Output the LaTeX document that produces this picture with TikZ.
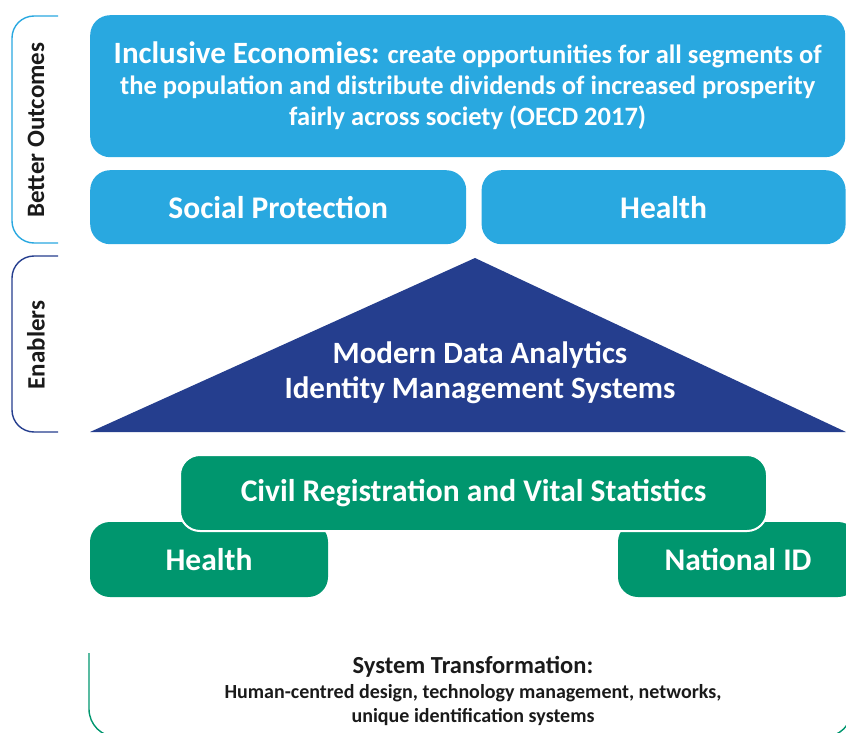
\documentclass[tikz,border=0pt]{standalone}
\usepackage{fontspec}
\setmainfont{Carlito}
\usepackage{xcolor}
\usetikzlibrary{shapes,arrows,positioning}

\definecolor{skyblue}{RGB}{41,168,224}
\definecolor{navyblue}{RGB}{37,62,142}
\definecolor{idgreen}{RGB}{0,150,110}
\definecolor{inkgray}{RGB}{26,26,26}

\begin{document}
\begin{tikzpicture}[x=1pt, y=-1pt,
    outcome/.style={rectangle, rounded corners=20pt, fill=skyblue, text=white, align=center, inner sep=0pt, font=\bfseries\fontsize{31.5}{31}\selectfont},
    enabler/.style={rectangle, rounded corners=20pt, fill=idgreen, text=white, align=center, inner sep=0pt, font=\bfseries\fontsize{31.5}{36}\selectfont},
    bracket/.style={line width=1.4pt, rounded corners=22pt},
    sidelabel/.style={rotate=90, text=inkgray, font=\bfseries\fontsize{25}{28}\selectfont}]
    \useasboundingbox (0,0) rectangle (846,733);

    % better outcomes
    \node[outcome, anchor=north west, minimum width=755pt, minimum height=142pt, font=\bfseries\fontsize{26.5}{31}\selectfont] (economies) at (90,15)
        {{\fontsize{31}{31}\selectfont Inclusive Economies:} create opportunities for all segments of\\the population and distribute dividends of increased prosperity\\fairly across society (OECD 2017)};
    \node[outcome, anchor=north west, minimum width=376pt, minimum height=74pt] (social) at (90,170) {Social Protection};
    \node[outcome, minimum width=364pt, minimum height=74pt] (health) [right=15pt of social] {Health};

    % enablers
    \fill[navyblue] (90,432) -- (475,258) -- (846,432) -- cycle;
    \node[text=white, align=center, font=\bfseries\fontsize{31}{35}\selectfont] (analytics) at (480,373)
        {Modern Data Analytics\\Identity Management Systems};

    % registration systems
    \node[enabler, minimum width=238pt, minimum height=75pt] (healthid) at (209,559.5) {Health};
    \node[enabler, minimum width=240pt, minimum height=75pt] (nationalid) at (738,559.5) {National ID};
    \node[enabler, draw=white, line width=2pt, minimum width=587pt, minimum height=76pt] (crvs) at (473.5,493)
        {Civil Registration and Vital Statistics};

    % side brackets
    \draw[bracket, skyblue] (58,16) -- (12,16) -- (12,243) -- (58,243);
    \node[sidelabel] (better) at (36,130) {Better Outcomes};
    \draw[bracket, navyblue] (58,256) -- (12,256) -- (12,432) -- (58,432);
    \node[sidelabel] (enablers) at (36,345) {Enablers};

    % system transformation
    \draw[bracket, idgreen, rounded corners=28pt] (89,653) -- (89,737) -- (852,737) -- (852,653);
    \node[text=inkgray, align=center, font=\bfseries\fontsize{20}{24.5}\selectfont] (transform) at (473,691)
        {{\fontsize{24.5}{24.5}\selectfont System Transformation:}\\Human-centred design, technology management, networks,\\unique identification systems};
\end{tikzpicture}
\end{document}
